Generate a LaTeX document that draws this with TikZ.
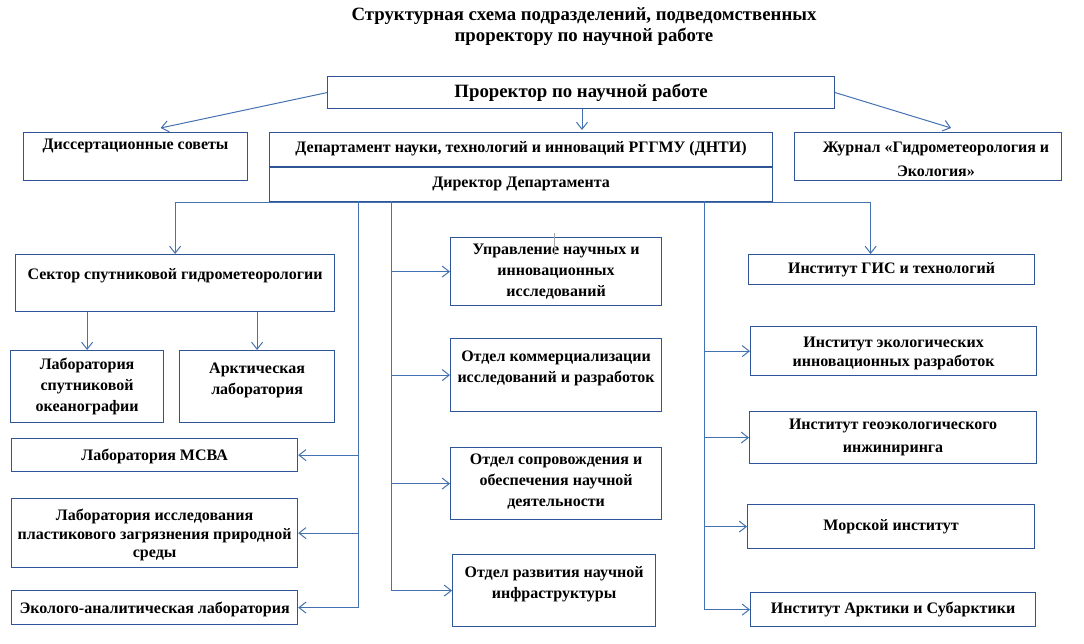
\documentclass[tikz,border=0pt]{standalone}
\usepackage{fontspec}
\setmainfont{Liberation Serif}
\usetikzlibrary{arrows.meta,positioning}
\definecolor{boxblue}{RGB}{47,85,151}
\definecolor{lineblue}{RGB}{68,114,176}

\begin{document}
\begin{tikzpicture}[x=1pt,y=-1pt,
        box/.style={draw=boxblue,line width=1.2pt,anchor=north west,inner sep=0pt},
        txt/.style={font=\fontsize{16}{21}\selectfont\bfseries,align=center,inner sep=0pt},
        big/.style={font=\fontsize{18.8}{21}\selectfont\bfseries,align=center,inner sep=0pt},
        link/.style={draw=lineblue,line width=1pt},
        arr/.style={link,-{Straight Barb[length=7pt,width=11pt]}}]
        \useasboundingbox (0,0) rectangle (1084,644);
        \node[big] (title) at (584,27) {Структурная схема подразделений, подведомственных\\проректору по научной работе};

        % top level
        \node[box,minimum width=507,minimum height=32] (pro) at (327,76) {};
        \node[big] (pro-t) at (pro.center) {Проректор по научной работе};
        \node[box,minimum width=224,minimum height=48] (diss) at (23,132) {};
        \node[txt] (diss-t) at (diss.north |- 0,146) {Диссертационные советы};
        \node[box,minimum width=503,minimum height=69] (dnti) at (269,132) {};
        \draw[boxblue,line width=1.2pt] (dnti.west |- 0,167) -- (dnti.east |- 0,167);
        \node[txt] (dnti-t) at (dnti.north |- 0,149) {Департамент науки, технологий и инноваций РГГМУ (ДНТИ)};
        \node[txt] (dnti-d) at (dnti.north |- 0,184) {Директор Департамента};
        \node[box,minimum width=267,minimum height=48] (jour) at (794,132) {};
        \node[txt,font=\fontsize{16}{24}\selectfont\bfseries] (jour-t) at (936,159) {Журнал «Гидрометеорология и\\Экология»};

        \draw[arr] (pro.west) -- ([xshift=25pt,yshift=4pt]diss.north);
        \draw[arr] (pro.south -| 582,0) -- ([yshift=2pt]dnti.north -| 582,0);
        \draw[arr] (pro.east) -- ([xshift=23pt,yshift=4pt]jour.north);

        % left column
        \node[box,minimum width=319,minimum height=57] (sector) at (15,254) {};
        \node[txt] (sector-t) at (sector.north |- 0,276) {Сектор спутниковой гидрометеорологии};
        \node[box,minimum width=153,minimum height=72] (ocean) at (10,350) {};
        \node[txt] (ocean-t) at (ocean.center) {Лаборатория\\спутниковой\\океанографии};
        \node[box,minimum width=155,minimum height=72] (arclab) at (179,350) {};
        \node[txt] (arclab-t) at (arclab.north |- 0,380) {Арктическая\\лаборатория};
        \node[box,minimum width=286,minimum height=33] (msva) at (11,438) {};
        \node[txt] (msva-t) at (msva.north |- 0,456) {Лаборатория МСВА};
        \node[box,minimum width=286,minimum height=69] (plast) at (11,498) {};
        \node[txt,font=\fontsize{16}{18.5}\selectfont\bfseries] (plast-t) at (plast.north |- 0,535) {Лаборатория исследования\\пластикового загрязнения природной\\среды};
        \node[box,minimum width=286,minimum height=34] (ecoan) at (11,590) {};
        \node[txt] (ecoan-t) at (ecoan.north |- 0,609) {Эколого-аналитическая лаборатория};

        % middle column
        \node[box,minimum width=211,minimum height=68] (upr) at (450,237) {};
        \node[txt] (upr-t) at (upr.center) {Управление научных и\\инновационных\\исследований};
        \node[box,minimum width=211,minimum height=73] (komm) at (450,338) {};
        \node[txt] (komm-t) at (komm.north |- 0,368) {Отдел коммерциализации\\исследований и разработок};
        \node[box,minimum width=211,minimum height=72] (sopr) at (450,447) {};
        \node[txt] (sopr-t) at (sopr.north |- 0,482) {Отдел сопровождения и\\обеспечения научной\\деятельности};
        \node[box,minimum width=203,minimum height=72] (razv) at (452,554) {};
        \node[txt] (razv-t) at (razv.north |- 0,584) {Отдел развития научной\\инфраструктуры};
        \draw[gray!70,line width=0.6pt] (554,233) -- (554,255);

        % right column
        \node[box,minimum width=286,minimum height=30] (gis) at (748,254) {};
        \node[txt] (gis-t) at (gis.north |- 0,270) {Институт ГИС и технологий};
        \node[box,minimum width=286,minimum height=49] (ecoinn) at (750,326) {};
        \node[txt,font=\fontsize{16}{19}\selectfont\bfseries] (ecoinn-t) at (ecoinn.north |- 0,353) {Институт экологических\\инновационных разработок};
        \node[box,minimum width=287,minimum height=52] (geoeco) at (749,411) {};
        \node[txt,font=\fontsize{16}{23}\selectfont\bfseries] (geoeco-t) at (geoeco.north |- 0,437) {Институт геоэкологического\\инжиниринга};
        \node[box,minimum width=287,minimum height=44] (morsk) at (747,504) {};
        \node[txt] (morsk-t) at (morsk.north |- 0,527) {Морской институт};
        \node[box,minimum width=285,minimum height=34] (arctic) at (750,592) {};
        \node[txt] (arctic-t) at (arctic.center) {Институт Арктики и Субарктики};

        % connectors from the department
        \coordinate (busL) at (358,201);
        \coordinate (busM) at (391,201);
        \coordinate (busR) at (704,201);
        \coordinate (gisin) at ([xshift=-21pt]gis.north);
        \draw[link] (sector.north |- dnti.south) -- (gisin |- dnti.south);
        \draw[arr] (sector.north |- dnti.south) -- (sector.north);
        \draw[arr] (gisin |- dnti.south) -- (gisin);
        \draw[arr] (ocean.north |- sector.south) -- (ocean.north);
        \draw[arr] (arclab.north |- sector.south) -- (arclab.north);

        \draw[arr] (busL) |- (ecoan.east);
        \draw[arr] (busL |- msva.east) -- (msva.east);
        \draw[arr] (busL |- plast.east) -- (plast.east);

        \draw[arr] (busM) |- (razv.west);
        \draw[arr] (busM |- upr.west) -- (upr.west);
        \draw[arr] (busM |- komm.west) -- (komm.west);
        \draw[arr] (busM |- sopr.west) -- (sopr.west);

        \draw[arr] (busR) |- (arctic.west);
        \draw[arr] (busR |- ecoinn.west) -- (ecoinn.west);
        \draw[arr] (busR |- geoeco.west) -- (geoeco.west);
        \draw[arr] (busR |- morsk.west) -- (morsk.west);
    \end{tikzpicture}
\end{document}
